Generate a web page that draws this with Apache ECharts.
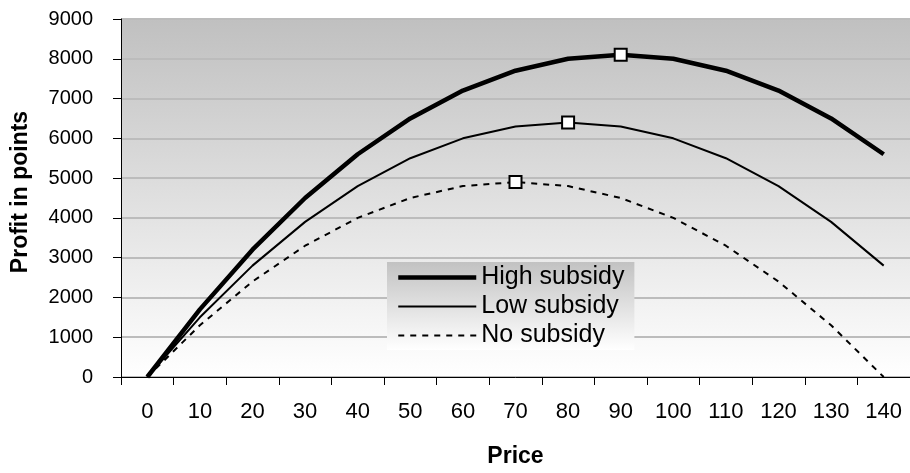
<!DOCTYPE html>
<html>
<head>
<meta charset="utf-8">
<script src="https://cdn.jsdelivr.net/npm/echarts@6/dist/echarts.min.js"></script>
<style>
html,body{margin:0;padding:0;background:#fff;}
#chart{width:910px;height:473px;}
</style>
</head>
<body>
<div id="chart"></div>
<script>
var categories = ['0','10','20','30','40','50','60','70','80','90','100','110','120','130','140'];
var highSubsidy = [0,1700,3200,4500,5600,6500,7200,7700,8000,8100,8000,7700,7200,6500,5600];
var lowSubsidy  = [0,1500,2800,3900,4800,5500,6000,6300,6400,6300,6000,5500,4800,3900,2800];
var noSubsidy   = [0,1300,2400,3300,4000,4500,4800,4900,4800,4500,4000,3300,2400,1300,0];
var yTicks = {min:0, max:9000, interval:1000};

var FONT = 'Liberation Sans';
var chart = echarts.init(document.getElementById('chart'));

function grad(top, bottom){
  return new echarts.graphic.LinearGradient(0,0,0,1,[{offset:0,color:top},{offset:1,color:bottom}]);
}
var markMax = {
  symbol:'rect', symbolSize:12,
  itemStyle:{color:'#ffffff', borderColor:'#000000', borderWidth:2},
  label:{show:false},
  data:[{type:'max'}]
};
var hideSym = {opacity:0, borderWidth:0};

chart.setOption({
  animation:false,
  textStyle:{fontFamily:FONT, color:'#000'},
  grid:{left:121, top:19, right:0, bottom:94, show:true, borderWidth:0,
        backgroundColor:grad('#c0c0c0','#ffffff')},
  legend:{
    orient:'vertical', left:387, top:262,
    padding:[1,10,0,9],
    itemWidth:78, itemHeight:14, itemGap:0,
    backgroundColor:grad('#c2c2c2','#ffffff'),
    textStyle:{fontFamily:FONT, fontSize:25, color:'#000', lineHeight:29},
    data:[
      {name:'High subsidy', itemStyle:hideSym, lineStyle:{width:4.5, color:'#000'}},
      {name:'Low subsidy', itemStyle:hideSym, lineStyle:{width:2, color:'#000'}},
      {name:'No subsidy', itemStyle:hideSym, lineStyle:{width:2, color:'#000', type:[6,6]}}
    ]
  },
  xAxis:{
    type:'category', data:categories, boundaryGap:true,
    name:'Price', nameLocation:'middle', nameGap:68,
    nameTextStyle:{fontFamily:FONT, fontSize:23, fontWeight:'bold', color:'#000'},
    axisLine:{lineStyle:{color:'#000', width:1}},
    axisTick:{show:true, length:8, inside:false, alignWithLabel:false, lineStyle:{color:'#000'}},
    axisLabel:{fontFamily:FONT, fontSize:22, color:'#000', margin:24, interval:0},
    splitLine:{show:false}
  },
  yAxis:{
    type:'value', min:yTicks.min, max:yTicks.max, interval:yTicks.interval,
    name:'Profit in points', nameLocation:'middle', nameGap:89,
    nameTextStyle:{fontFamily:FONT, fontSize:23, fontWeight:'bold', color:'#000', padding:[0,0,0,12]},
    axisLine:{show:true, lineStyle:{color:'#000', width:1}},
    axisTick:{show:true, length:8, lineStyle:{color:'#000'}},
    axisLabel:{fontFamily:FONT, fontSize:20, color:'#000', margin:28,
               formatter:function(v){return String(v);}},
    splitLine:{show:true, lineStyle:{color:'#bcbcbc', width:2}}
  },
  series:[
    {name:'High subsidy', type:'line', data:highSubsidy, symbol:'none',
     lineStyle:{color:'#000', width:4.5}, itemStyle:{color:'#000'}, z:4, markPoint:markMax},
    {name:'Low subsidy', type:'line', data:lowSubsidy, symbol:'none',
     lineStyle:{color:'#000', width:2}, itemStyle:{color:'#000'}, z:3, markPoint:markMax},
    {name:'No subsidy', type:'line', data:noSubsidy, symbol:'none',
     lineStyle:{color:'#000', width:2, type:[6,6]}, itemStyle:{color:'#000'}, z:2, markPoint:markMax}
  ]
});
</script>
</body>
</html>
